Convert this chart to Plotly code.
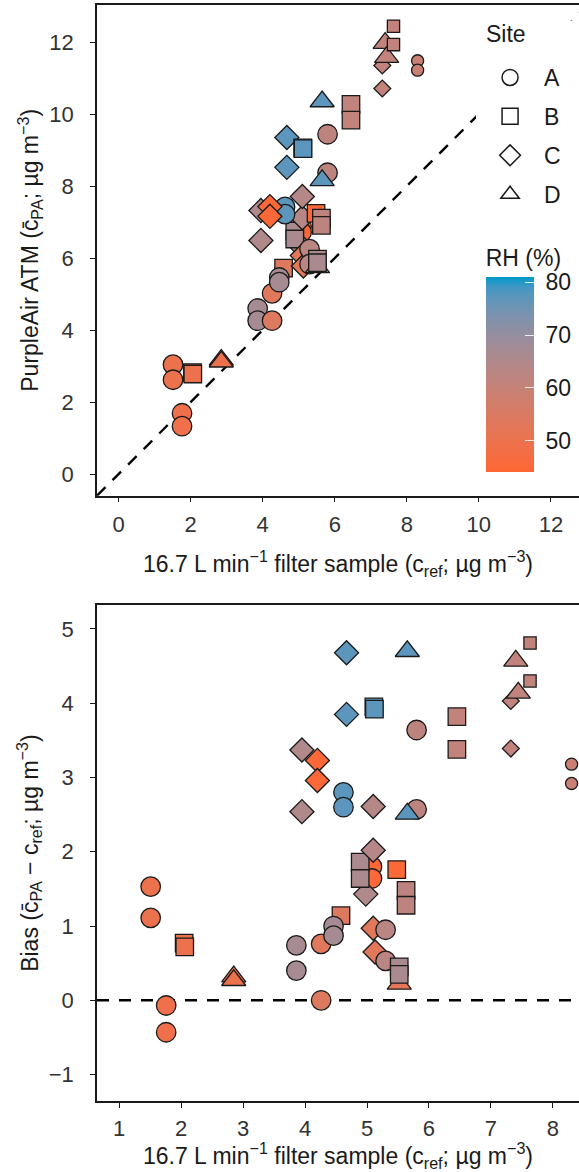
import plotly.graph_objects as go

# ---------------- data ----------------
site = ["A", "A", "A", "A", "B", "B", "D", "D", "A", "A",
        "A", "A", "B", "A", "A", "A", "A", "C", "B", "B",
        "C", "B", "B", "B", "C", "C", "A", "A", "D", "B",
        "B", "A", "A", "C", "C", "C", "C", "C", "C", "C",
        "A", "D", "A", "D", "B", "B", "B", "B", "C", "C",
        "D", "D", "B", "B", "A", "A"]
c_ref = [1.51, 1.51, 1.76, 1.76, 2.05, 2.06, 2.85, 2.85, 3.86, 3.86,
         4.26, 4.26, 4.58, 4.46, 4.46, 5.08, 5.08, 4.98, 4.89, 4.89,
         5.10, 5.48, 5.63, 5.63, 5.10, 5.13, 5.30, 5.30, 5.52, 5.52,
         5.52, 4.62, 4.62, 3.95, 3.95, 4.20, 4.20, 5.10, 4.67, 4.67,
         5.80, 5.65, 5.80, 5.65, 5.11, 5.12, 6.45, 6.45, 7.32, 7.32,
         7.40, 7.44, 7.63, 7.63, 8.30, 8.30]
c_pa = [3.04, 2.62, 1.69, 1.33, 2.82, 2.78, 3.17, 3.12, 4.60, 4.26,
        5.02, 4.26, 5.72, 5.46, 5.33, 6.88, 6.72, 6.41, 6.75, 6.53,
        7.12, 7.24, 7.11, 6.91, 6.07, 5.78, 6.25, 5.83, 5.74, 5.97,
        5.87, 7.42, 7.22, 7.32, 6.49, 7.43, 7.16, 7.71, 9.35, 8.52,
        8.37, 8.16, 9.44, 10.35, 9.06, 9.04, 10.27, 9.83, 10.71, 11.35,
        11.97, 11.58, 12.44, 11.93, 11.48, 11.22]
rh = [50, 50, 49, 49, 50, 50, 50, 50, 67, 67,
      53, 54, 54, 67, 67, 45, 45, 65, 66, 66,
      64, 45, 62, 62, 53, 53, 63, 63, 52, 66,
      66, 77, 77, 65, 65, 45, 45, 64, 77, 77,
      62, 77, 62, 77, 77, 77, 61, 61, 61, 61,
      61, 61, 61, 61, 59, 59]
site_levels = ["A", "B", "C", "D"]
top_xticks = [0, 2, 4, 6, 8, 10, 12]
top_yticks = [0, 2, 4, 6, 8, 10, 12]
bot_xticks = [1, 2, 3, 4, 5, 6, 7, 8]
bot_yticks = [-1, 0, 1, 2, 3, 4, 5]
rh_ticks = [50, 60, 70, 80]

bias = [p - r for p, r in zip(c_pa, c_ref)]

# ---------------- style ----------------
W, H = 579, 1172
FONT = "Liberation Sans, Arial, sans-serif"
rel_size = [1.0] * len(site)
for i, (s, x) in enumerate(zip(site, c_ref)):
    if (s == "C" and x > 7.2) or (s == "B" and x > 7.5):
        rel_size[i] = 0.7
    if s == "A" and x > 8:
        rel_size[i] = 0.62
symbol_map = {"A": "circle", "B": "square", "C": "diamond", "D": "triangle-up"}
base_size = {"A": 19.5, "B": 17.5, "C": 18.5, "D": 21}


def hex_to_rgb(h):
    h = h.lstrip("#")
    return [int(h[i:i + 2], 16) for i in (0, 2, 4)]


def _lin(c):
    c = c / 255.0
    return c / 12.92 if c <= 0.04045 else ((c + 0.055) / 1.055) ** 2.4


def _delin(c):
    v = 12.92 * c if c <= 0.0031308 else 1.055 * c ** (1 / 2.4) - 0.055
    return max(0, min(255, round(v * 255)))


XN, YN, ZN = 0.95047, 1.0, 1.08883


def rgb_to_lab(rgb):
    r, g, b = [_lin(v) for v in rgb]
    X = 0.4124 * r + 0.3576 * g + 0.1805 * b
    Y = 0.2126 * r + 0.7152 * g + 0.0722 * b
    Z = 0.0193 * r + 0.1192 * g + 0.9505 * b
    d = 6 / 29
    f = lambda t: t ** (1 / 3) if t > d ** 3 else t / (3 * d * d) + 4 / 29
    fx, fy, fz = f(X / XN), f(Y / YN), f(Z / ZN)
    return 116 * fy - 16, 500 * (fx - fy), 200 * (fy - fz)


def lab_to_hex(L, a, b):
    d = 6 / 29
    fy = (L + 16) / 116
    fx = fy + a / 500
    fz = fy - b / 200
    finv = lambda t: t ** 3 if t > d else 3 * d * d * (t - 4 / 29)
    X, Y, Z = XN * finv(fx), YN * finv(fy), ZN * finv(fz)
    r = 3.2406 * X - 1.5372 * Y - 0.4986 * Z
    g = -0.9689 * X + 1.8758 * Y + 0.0415 * Z
    bb = 0.0557 * X - 0.2040 * Y + 1.0570 * Z
    return "#%02x%02x%02x" % (_delin(r), _delin(g), _delin(bb))


low_lab = rgb_to_lab(hex_to_rgb("#FF6633"))
high_lab = rgb_to_lab(hex_to_rgb("#0099CC"))
NST = 20
colorscale = []
for k in range(NST + 1):
    t = k / NST
    lab = [lo + (hi - lo) * t for lo, hi in zip(low_lab, high_lab)]
    colorscale.append([t, lab_to_hex(*lab)])

# pixel geometry -> paper coordinates (inside margins)
ML, MR, MT, MB = 96.7, 0.0, 5.0, H - 1100.6


def px(xp):
    return (xp - ML) / (W - ML - MR)


def py(yp):
    return 1 - (yp - MT) / (H - MT - MB)


x_dom = [0.0, 1.0]
top_dom = [py(495.5), 1.0]
bot_dom = [0.0, py(605)]
top_xr = [-0.6, 12.78]
top_yr = [-0.6, 13.03]
bot_xr = [0.644, 8.42]
bot_yr = [-1.356, 5.32]

fig = go.Figure()

# reference lines
dash = dict(color="black", width=2.4, dash="12px,10px")
fig.add_trace(go.Scatter(x=[top_yr[0], top_yr[1]], y=[top_yr[0], top_yr[1]],
                         mode="lines", line=dash, showlegend=False,
                         hoverinfo="skip", xaxis="x", yaxis="y"))
fig.add_trace(go.Scatter(x=bot_xr, y=[0, 0], mode="lines", line=dash,
                         showlegend=False, hoverinfo="skip",
                         xaxis="x2", yaxis="y2"))

symbols = [symbol_map[s] for s in site]
sizes = [base_size[s] * f for s, f in zip(site, rel_size)]
mk = dict(symbol=symbols, size=sizes, color=rh, coloraxis="coloraxis",
          line=dict(color="#1a1a1a", width=1.3), opacity=1)

fig.add_trace(go.Scatter(x=c_ref, y=c_pa, mode="markers", marker=mk,
                         showlegend=False, xaxis="x", yaxis="y"))
fig.add_trace(go.Scatter(x=c_ref, y=bias, mode="markers", marker=mk,
                         showlegend=False, xaxis="x2", yaxis="y2"))

# legend keys for site (hollow shapes)
for s in site_levels:
    fig.add_trace(go.Scatter(x=[None], y=[None], mode="markers",
                             marker=dict(symbol=symbol_map[s], size=16,
                                         color="white",
                                         line=dict(color="#1a1a1a", width=1.5)),
                             name=s, legendgroup=s, showlegend=True,
                             xaxis="x", yaxis="y"))

tickfont = dict(family=FONT, size=22, color="#333333")
titlefont = dict(family=FONT, size=23, color="#1a1a1a")
axis_common = dict(showline=True, linecolor="#1a1a1a", linewidth=1.6,
                   ticks="outside", ticklen=5, tickwidth=1.4,
                   tickcolor="#1a1a1a", showgrid=False, zeroline=False,
                   tickfont=tickfont, automargin=True)

xt = "16.7 L min<sup>−1</sup> filter sample (c<sub>ref</sub>; µg m<sup>−3</sup>)"

fig.update_layout(
    width=W, height=H,
    margin=dict(l=ML, r=MR, t=MT, b=MB, autoexpand=False),
    paper_bgcolor="white", plot_bgcolor="white",
    font=dict(family=FONT, color="#1a1a1a"),
    xaxis=dict(domain=x_dom, range=top_xr, tickvals=top_xticks,
               anchor="y", mirror=True, ticklabelstandoff=3,
               title=dict(text=xt, font=titlefont, standoff=20),
               **axis_common),
    yaxis=dict(domain=top_dom, range=top_yr, tickvals=top_yticks,
               anchor="x", ticklabelstandoff=12,
               title=dict(text="PurpleAir ATM (c\u0304<sub>PA</sub>; µg m<sup>−3</sup>)",
                          font=titlefont, standoff=4),
               **axis_common),
    xaxis2=dict(domain=x_dom, range=bot_xr, tickvals=bot_xticks,
                anchor="y2", mirror=True, ticklabelstandoff=2,
                title=dict(text=xt, font=titlefont, standoff=15),
                **axis_common),
    yaxis2=dict(domain=bot_dom, range=bot_yr, tickvals=bot_yticks,
                anchor="x2", ticklabelstandoff=12,
                title=dict(text="Bias (c\u0304<sub>PA</sub> − c<sub>ref</sub>; µg m<sup>−3</sup>)",
                           font=titlefont, standoff=4),
                **axis_common),
    coloraxis=dict(
        colorscale=colorscale, cmin=44, cmax=81,
        colorbar=dict(
            x=px(485.7), xanchor="left", y=py(246), yanchor="top",
            len=226, lenmode="pixels", thickness=47.6, thicknessmode="pixels",
            outlinewidth=0, ticks="inside", ticklen=9, tickwidth=1.3,
            tickcolor="rgba(255,255,255,0.85)", tickvals=rh_ticks,
            ticktext=[" %d" % v for v in rh_ticks],
            tickfont=dict(family=FONT, size=23, color="#1a1a1a"),
            title=dict(text="RH (%)", side="top",
                       font=dict(family=FONT, size=23, color="#1a1a1a")),
            xpad=0, ypad=0,
        ),
    ),
    legend=dict(
        x=px(476), xanchor="left", y=py(56), yanchor="top",
        bgcolor="white", borderwidth=0,
        font=dict(family=FONT, size=23, color="#1a1a1a"),
        traceorder="grouped", tracegroupgap=6, itemwidth=58,
        itemsizing="trace",
    ),
    annotations=[dict(
        text="Site", xref="paper", yref="paper",
        x=px(485), y=py(20), xanchor="left", yanchor="top",
        showarrow=False, align="left", width=90, height=36,
        valign="top", bgcolor="white", borderpad=0,
        font=dict(family=FONT, size=23, color="#1a1a1a"),
    )],
)

fig.write_html("out.html",
               config={"displayModeBar": False},
               post_script="document.body.style.margin='0px';"
                           "document.body.style.padding='0px';")
